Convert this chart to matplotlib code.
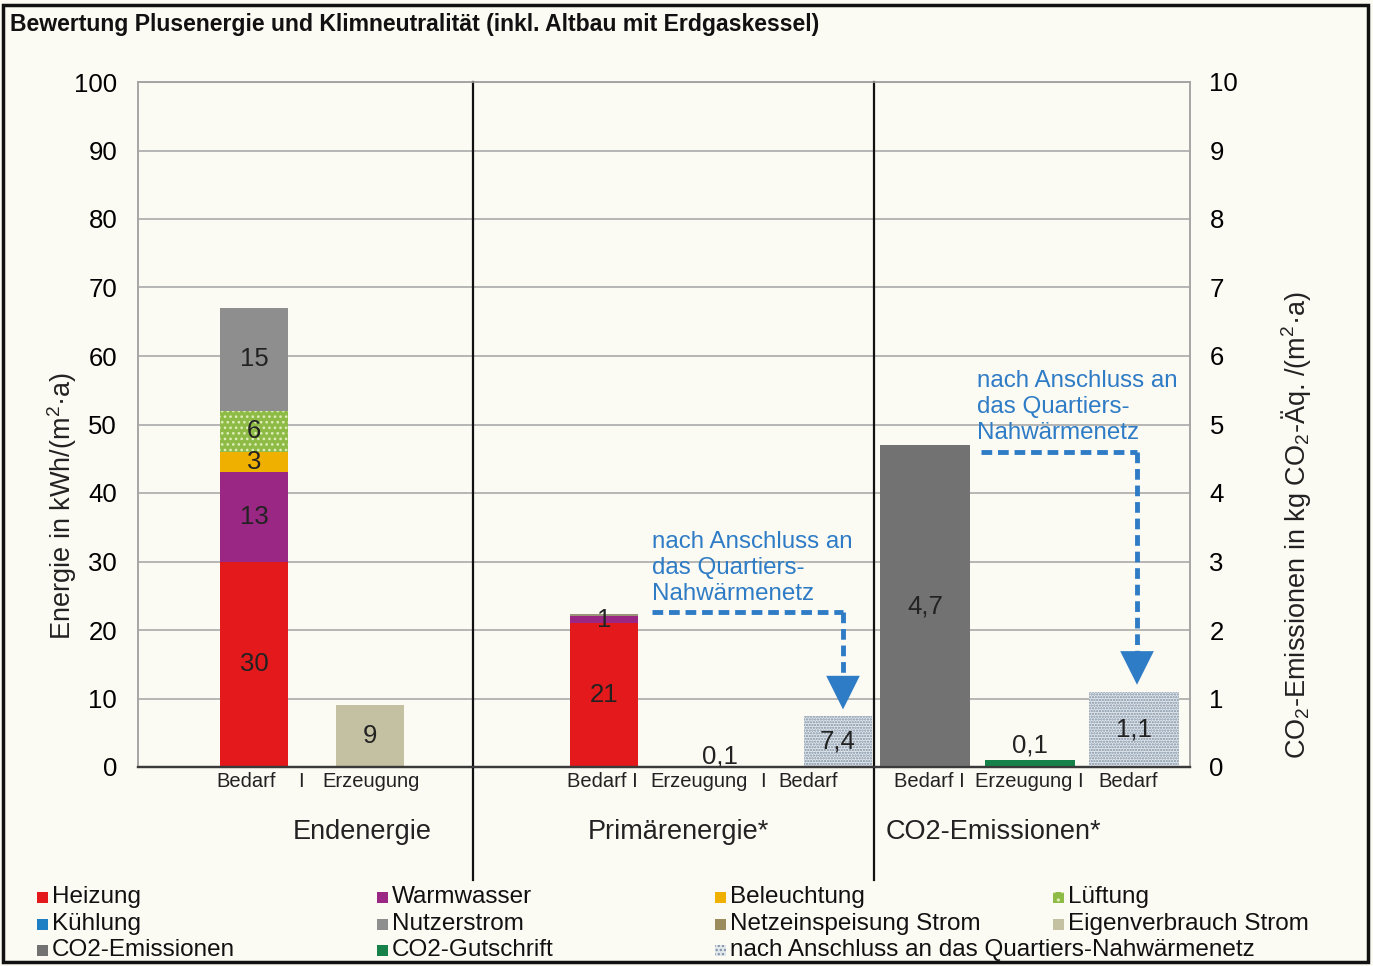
import matplotlib
matplotlib.use('Agg')
import matplotlib.pyplot as plt
from matplotlib.patches import Rectangle

# ---------------- data ----------------
components = ['Heizung', 'Warmwasser', 'Beleuchtung', 'Lüftung', 'Nutzerstrom']
end_bedarf = [30, 13, 3, 6, 15]
end_erzeugung = 9
prim_bedarf = [21, 1, 0, 0, 0.3]
prim_erzeugung = 0.1
prim_nach_anschluss = 7.4
co2_bedarf = 4.7
co2_gutschrift = 0.1
co2_nach_anschluss = 1.1

left_ticks = [0, 10, 20, 30, 40, 50, 60, 70, 80, 90, 100]
right_ticks = [0, 1, 2, 3, 4, 5, 6, 7, 8, 9, 10]

legend_labels = ['Heizung', 'Warmwasser', 'Beleuchtung', 'Lüftung',
                 'Kühlung', 'Nutzerstrom', 'Netzeinspeisung Strom', 'Eigenverbrauch Strom',
                 'CO2-Emissionen', 'CO2-Gutschrift', 'nach Anschluss an das Quartiers-Nahwärmenetz']
section_labels = ['Endenergie', 'Primärenergie*', 'CO2-Emissionen*']
annot_text = 'nach Anschluss an\ndas Quartiers-\nNahwärmenetz'

# ---------------- styles ----------------
colors = {
    'Heizung': '#e3191c', 'Warmwasser': '#9a2784', 'Beleuchtung': '#f0b000',
    'Lüftung': '#8dbb45', 'Kühlung': '#1f7fc4', 'Nutzerstrom': '#9a9478',
    'Netzeinspeisung Strom': '#9a8c5c', 'Eigenverbrauch Strom': '#c4c0a2',
    'CO2-Emissionen': '#727272', 'CO2-Gutschrift': '#16824a',
    'nach Anschluss an das Quartiers-Nahwärmenetz': '#e2e7ec',
}
nutzer_end_color = '#8e8e8e'
blue = '#2f7cc6'
bg = '#fbfaf3'

plt.rcParams['font.family'] = ['Liberation Sans', 'DejaVu Sans']
plt.rcParams['mathtext.fontset'] = 'custom'
plt.rcParams['mathtext.rm'] = 'Liberation Sans'
plt.rcParams['mathtext.it'] = 'Liberation Sans:italic'
plt.rcParams['hatch.linewidth'] = 1.1

W, H = 1373, 966
fig = plt.figure(figsize=(W / 100, H / 100), dpi=100, facecolor=bg)

def fx(px):
    return px / W

def fy(py):
    return 1 - py / H

ax = fig.add_axes([fx(138), fy(767), fx(1190) - fx(138), fy(82) - fy(767)])
ax.set_facecolor(bg)
ax.set_xlim(138, 1190)
ax.set_ylim(0, 100)
ax2 = ax.twinx()
ax2.set_ylim(0, 10)

# bar positions (layout)
x_end_b, x_end_e = 254, 370
x_pr_b, x_pr_e, x_pr_n = 604, 720, 838
x_co_b, x_co_e, x_co_n = 925, 1030, 1134
w_small, w_big = 68, 90
lab_fs = 18.5
dot_hatch = '......'
dot_ec = '#7d90a4'

# grid
ax.set_yticks(left_ticks)
ax.grid(axis='y', color='#a3a3a3', lw=1.1)
ax.set_axisbelow(True)
ax.set_xticks([])
ax.tick_params(axis='y', length=0, pad=15, labelsize=18.5)
ax2.set_yticks(right_ticks)
ax2.tick_params(axis='y', length=0, pad=14, labelsize=18.5)
for a in (ax, ax2):
    for s in ['left', 'right', 'top']:
        a.spines[s].set_color('#a3a3a3')
        a.spines[s].set_linewidth(1.1)
    a.spines['bottom'].set_color('#3a3a3a')
    a.spines['bottom'].set_linewidth(1.6)

# Endenergie stacked
bottom = 0
for name, v in zip(components, end_bedarf):
    hatch = '...' if name == 'Lüftung' else None
    col = nutzer_end_color if name == 'Nutzerstrom' else colors[name]
    ax.bar(x_end_b, v, w_small, bottom=bottom, color=col,
           edgecolor='#dfeeb8' if hatch else col, hatch=hatch, lw=0)
    ax.text(x_end_b, bottom + v / 2, f'{v}', ha='center', va='center', fontsize=lab_fs, color='#222')
    bottom += v
ax.bar(x_end_e, end_erzeugung, w_small, color=colors['Eigenverbrauch Strom'], lw=0)
ax.text(x_end_e, end_erzeugung / 2, f'{end_erzeugung}', ha='center', va='center', fontsize=lab_fs, color='#222')

# Primärenergie stacked
bottom = 0
for name, v in zip(components, prim_bedarf):
    if v <= 0:
        continue
    ax.bar(x_pr_b, v, w_small, bottom=bottom, color=colors[name], lw=0)
    if v >= 1:
        ax.text(x_pr_b, bottom + v / 2, f'{v}', ha='center', va='center', fontsize=lab_fs, color='#222')
    bottom += v
ax.bar(x_pr_e, prim_erzeugung, w_small, color=colors['Eigenverbrauch Strom'], lw=0)
ax.text(x_pr_e, prim_erzeugung + 1.4, f'{prim_erzeugung}'.replace('.', ','), ha='center', va='center',
        fontsize=lab_fs, color='#222')
ax.bar(x_pr_n, prim_nach_anschluss, w_small, color=colors[legend_labels[-1]],
       edgecolor=dot_ec, hatch=dot_hatch, lw=0)
ax.text(x_pr_n, prim_nach_anschluss / 2, f'{prim_nach_anschluss}'.replace('.', ','), ha='center',
        va='center', fontsize=lab_fs, color='#222')

# CO2 (right axis)
ax2.bar(x_co_b, co2_bedarf, w_big, color=colors['CO2-Emissionen'], lw=0)
ax2.text(x_co_b, co2_bedarf / 2, f'{co2_bedarf}'.replace('.', ','), ha='center', va='center',
         fontsize=lab_fs, color='#222')
ax2.bar(x_co_e, co2_gutschrift, w_big, color=colors['CO2-Gutschrift'], lw=0)
ax2.text(x_co_e, co2_gutschrift + 0.22, f'{co2_gutschrift}'.replace('.', ','), ha='center', va='center',
         fontsize=lab_fs, color='#222')
ax2.bar(x_co_n, co2_nach_anschluss, w_big, color=colors[legend_labels[-1]],
        edgecolor=dot_ec, hatch=dot_hatch, lw=0)
ax2.text(x_co_n, co2_nach_anschluss / 2, f'{co2_nach_anschluss}'.replace('.', ','), ha='center',
         va='center', fontsize=lab_fs, color='#222')

# dividers
tr = ax.get_xaxis_transform()
for xd in (473, 874):
    ax.plot([xd, xd], [1.0, -0.165], transform=tr, color='#111', lw=1.6, clip_on=False, zorder=5)

# category labels
cat_y = -0.021
cats = [(246, 'Bedarf'), (301, 'I'), (371, 'Erzeugung'),
        (602, 'Bedarf I'), (699, 'Erzeugung'), (763, 'I'), (808, 'Bedarf'),
        (929, 'Bedarf I'), (1029, 'Erzeugung I'), (1128, 'Bedarf')]
for xc, t in cats:
    ax.text(xc, cat_y, t, transform=tr, ha='center', va='center', fontsize=14.5, color='#222')
for xc, t in zip((362, 678, 993), section_labels):
    ax.text(xc, -0.095, t, transform=tr, ha='center', va='center', fontsize=19.5, color='#222')

# annotations with dashed arrows
def dashed_arrow(a, x0, y0, x1, y_end, head):
    a.plot([x0, x1], [y0, y0], color=blue, lw=3.5, ls=(0, (2.2, 1.2)), zorder=6)
    a.plot([x1, x1], [y0, y_end + head], color=blue, lw=3.5, ls=(0, (2.2, 1.2)), zorder=6)
    a.annotate('', xy=(x1, y_end), xytext=(x1, y_end + head),
               arrowprops=dict(arrowstyle='-|>,head_length=1.1,head_width=0.55', color=blue,
                               lw=0, mutation_scale=22), zorder=7)

dashed_arrow(ax, 652, 22.6, 843, 8.0, 3.0)
dashed_arrow(ax, 981, 46.0, 1137, 11.6, 3.0)
ax.text(652, 34.4, annot_text, ha='left', va='top', fontsize=17.4, color=blue, linespacing=1.22)
ax.text(977, 57.9, annot_text, ha='left', va='top', fontsize=17.4, color=blue, linespacing=1.22)

# axis labels
fig.text(fx(62), fy(506), 'Energie in kWh/(m$^2$·a)', rotation=90, ha='center', va='center',
         fontsize=19.5, color='#222')
fig.text(fx(1296), fy(525), 'CO$_2$-Emissionen in kg CO$_2$-Äq. /(m$^2$·a)', rotation=90,
         ha='center', va='center', fontsize=19.5, color='#222')

# title
fig.text(fx(10), fy(25), 'Bewertung Plusenergie und Klimneutralität (inkl. Altbau mit Erdgaskessel)',
         ha='left', va='center', fontsize=16.6, fontweight='bold', color='#111')

# legend (manual grid)
col_x = [42, 382, 720, 1058]
row_y = [897, 924, 950]
for i, lab in enumerate(legend_labels):
    r, c = divmod(i, 4)
    x, y = col_x[c], row_y[r]
    hatch = '....' if lab == legend_labels[-1] else ('..' if lab == 'Lüftung' else None)
    ec = dot_ec if lab == legend_labels[-1] else ('#dfeeb8' if hatch else colors[lab])
    fc = nutzer_end_color if lab == 'Nutzerstrom' else colors[lab]
    fig.patches.append(Rectangle((fx(x - 5), fy(y + 6)), fx(11), 11 / H, transform=fig.transFigure,
                                 facecolor=fc, edgecolor=ec, hatch=hatch, lw=0))
    fig.text(fx(x + 10), fy(y), lab, ha='left', va='center', fontsize=17.5, color='#111')

# outer frame
fig.patches.append(Rectangle((fx(3), fy(962)), fx(1368) - fx(3), fy(5) - fy(962), transform=fig.transFigure,
                             fill=False, edgecolor='#111', lw=2.5))

fig.savefig('out.png', dpi=100, facecolor=bg)
